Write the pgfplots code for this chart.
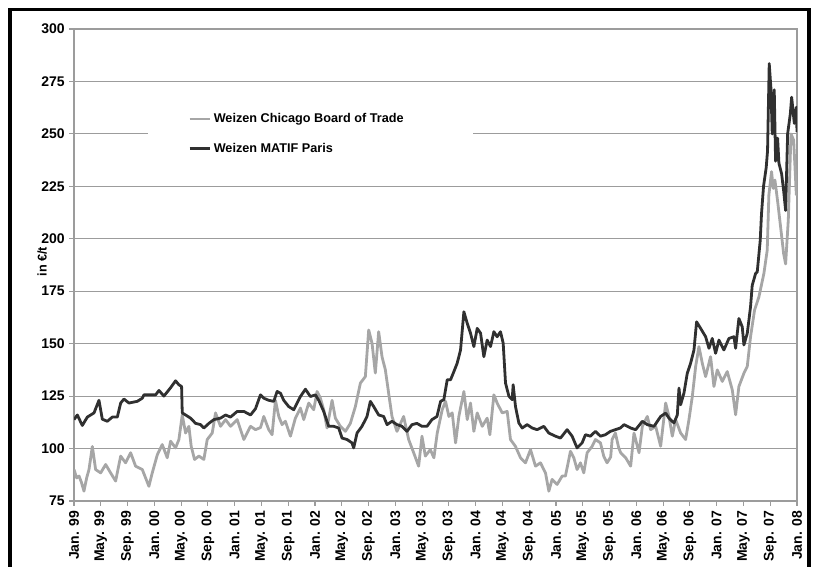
\documentclass[border=0pt]{standalone}
\usepackage{pgfplots}
\pgfplotsset{compat=1.18}
\usepackage{fontspec}
\setmainfont{Liberation Sans}
\definecolor{cbot}{HTML}{A6A6A6}
\definecolor{matif}{HTML}{303030}
\definecolor{gridc}{HTML}{9C9C9C}
\begin{document}
\begin{tikzpicture}
\useasboundingbox (0pt,0pt) rectangle (610.5pt,425.25pt);
\begin{axis}[
  at={(55.5pt,49.5pt)}, anchor=south west,
  scale only axis, width=542.25pt, height=354pt,
  xmin=0, xmax=108, ymin=75, ymax=300,
  xtick={0,4,...,108},
  xticklabels={Jan. 99,May. 99,Sep. 99,Jan. 00,May. 00,Sep. 00,Jan. 01,May. 01,Sep. 01,Jan. 02,May. 02,Sep. 02,Jan. 03,May. 03,Sep. 03,Jan. 04,May. 04,Sep. 04,Jan. 05,May. 05,Sep. 05,Jan. 06,May. 06,Sep. 06,Jan. 07,May. 07,Sep. 07,Jan. 08},
  ytick={75,100,...,300},
  xtick pos=left, ytick pos=left,
  tick align=outside, major tick length=3.5pt,
  tick style={gridc, line width=0.9pt},
  axis line style={gridc, line width=1.1pt},
  ymajorgrids, grid style={gridc, line width=0.75pt},
  /pgf/number format/assume math mode=true,
  y tick label style={font=\bfseries\fontsize{10.5}{12}\selectfont},
  x tick label style={rotate=90, anchor=east, xshift=-0.5pt, font=\bfseries\fontsize{10.5}{12}\selectfont},
  ylabel={in €/t},
  ylabel style={at={(axis description cs:-0.044,0.507)}, anchor=center, font=\bfseries\fontsize{9.5}{11}\selectfont},
  legend style={at={(axis description cs:0.1024,0.7778)}, anchor=west, draw=none, fill=white,
    font=\bfseries\fontsize{9.5}{11}\selectfont, inner xsep=30pt, inner ysep=8pt, row sep=10pt},
  legend cell align=left,
  legend image code/.code={\draw[#1] (0pt,0pt) -- (15pt,0pt);},
]
\addplot[cbot, line width=2.1pt, line join=round] coordinates {
(0,90)(0.4,86)(0.75,86.9)(1.1,84)(1.49,79.7)(1.89,86)(2.24,90)(2.74,101)(3.23,90)(3.98,88.4)
(4.73,92.4)(5.47,88.4)(6.22,84.5)(6.97,96.4)(7.71,93.2)(8.46,98)(9.2,91.6)(10.2,90)(11.19,82)(11.69,88.4)
(12.44,97)(13.18,101.9)(13.93,95.6)(14.43,103.5)(15.17,100.3)(15.67,104.3)(16.17,116)(16.67,107.4)(17.16,110.6)(17.51,101)
(18.01,94.8)(18.66,96.4)(19.4,94.8)(19.9,104.3)(20.65,107.4)(21.14,117)(21.89,110.6)(22.64,113.8)(23.38,110.6)(24.38,113.8)
(25.37,104.3)(26.37,110.6)(27.11,109)(27.86,110)(28.35,115.3)(29.09,109)(29.59,106.6)(30.09,123)(30.59,115.3)(31.08,111.4)
(31.58,113)(32.33,105.9)(33.07,114.5)(33.82,119.3)(34.32,113.8)(35.06,121.7)(35.81,118.5)(36.31,127.2)(36.81,124)(37.3,118.5)
(37.8,109.8)(38.55,123)(39.04,114.5)(39.79,110.6)(40.54,108.2)(41.28,112)(42.03,120)(42.78,131.2)(43.52,134.3)(44.02,156.5)
(44.52,150.2)(45.01,136)(45.51,155.7)(46.01,143.8)(46.51,137.5)(47.0,126.4)(47.5,115.3)(48.25,108.2)(49.24,115.3)(49.99,104.3)
(50.74,98)(51.48,91.6)(51.98,105.9)(52.48,96.4)(53.22,99.5)(53.76,95.6)(54.26,107.4)(55.0,118.5)(55.5,122.5)(56.0,115.3)
(56.5,117)(57.0,102.7)(57.49,115.3)(58.24,127.2)(58.74,113.8)(59.23,121.7)(59.73,108.2)(60.23,117)(60.98,110.6)(61.72,114.5)
(62.12,106.6)(62.72,125.6)(63.21,121.7)(63.96,117)(64.71,117.7)(65.2,104.3)(65.95,101)(66.7,95.6)(67.44,93.2)(68.19,99.5)
(68.94,91.6)(69.68,93.2)(70.43,88.4)(70.93,79.7)(71.42,85.3)(72.17,82.9)(72.92,86.9)(73.41,86.9)(74.16,98.7)(74.66,95.6)
(75.15,90)(75.65,93.2)(76.15,88.4)(76.65,98)(77.39,101)(77.89,104.3)(78.64,102.7)(79.13,96.4)(79.63,93.2)(80.17,96)
(80.38,104.3)(80.87,107.4)(81.37,100.3)(81.66,98)(82.41,95.6)(83.15,91.6)(83.65,107.4)(84.4,98)(84.9,110.6)(85.64,115.3)
(86.14,109)(86.89,110.6)(87.63,101.1)(88.38,121.7)(88.88,115.3)(89.37,105.9)(89.87,113.8)(90.62,107.4)(91.36,104.3)(91.86,113.8)
(92.36,124.8)(92.86,139.1)(93.35,148.6)(93.85,140.7)(94.35,134.3)(95.09,143.8)(95.59,129.6)(96.09,137.5)(96.84,132)(97.58,136.7)
(98.33,128)(98.83,116.1)(99.32,129.6)(100.07,135.9)(100.57,139.1)(101.06,153.3)(101.66,166)(102.31,172.3)(103.05,183.4)(103.55,194.5)
(103.8,221)(104.2,232)(104.45,224)(104.7,228)(105.1,218)(105.5,207)(106.0,193)(106.3,188)(106.7,209)(107.1,250)
(107.5,247)(107.9,221)(108.0,226)
};
\addlegendentry{Weizen Chicago Board of Trade\hspace*{20pt}}
\addplot[matif, line width=2.1pt, line join=round] coordinates {
(0,113.8)(0.5,116)(1.24,111)(1.99,115)(2.99,117)(3.73,123)(4.23,114)(4.98,113)(5.72,115)(6.47,115)
(6.97,121.7)(7.46,123.6)(8.21,121.7)(9.45,122.5)(10.2,124)(10.45,125.6)(11.44,125.6)(12.19,125.6)(12.69,127.7)(13.43,125)
(14.43,129)(15.17,132.3)(15.67,130.4)(16.07,129.6)(16.17,117)(16.67,116)(17.41,114.5)(18.16,112)(18.91,111.4)(19.4,109.8)
(20.15,112)(20.9,113.8)(21.89,114.5)(22.64,116)(23.38,115)(24.38,117.7)(25.37,117.7)(26.37,116)(27.11,119)(27.85,125.6)
(28.35,124)(29.09,123)(29.84,122.5)(30.34,127.2)(30.84,126.4)(31.33,123)(32.08,120)(32.83,118.5)(33.82,124.8)(34.57,128.3)
(35.31,124.8)(36.06,125.6)(36.56,123)(37.3,117.7)(38.05,110.6)(38.8,110.6)(39.54,109.8)(40.04,105)(40.79,104.3)(41.53,102.7)
(41.78,100.3)(42.28,107.4)(43.02,110.6)(43.77,115.3)(44.27,122.5)(44.77,120)(45.51,116)(46.26,115.3)(46.76,111.4)(47.5,113)
(48.25,111.4)(49.0,110.6)(49.74,108.2)(50.49,111.4)(51.23,112)(51.98,110.6)(52.73,110.6)(53.47,113.8)(54.22,115.3)(54.76,122.5)
(55.25,123.3)(55.75,132.8)(56.25,132.8)(56.75,136.7)(57.24,140.7)(57.74,147)(58.24,165.2)(58.74,159.7)(59.23,155)(59.73,148.6)
(60.23,157.3)(60.73,155)(61.22,143.8)(61.72,151.7)(62.22,148.6)(62.72,155.7)(63.21,153.3)(63.71,155.7)(64.11,150.2)(64.46,131.2)
(64.96,125)(65.45,123.3)(65.6,130.4)(65.95,120)(66.45,112.2)(66.95,109.8)(67.69,111.4)(68.44,109.8)(69.18,109)(70.18,110.6)
(70.92,107.4)(71.92,105.9)(72.67,105)(73.66,109)(74.41,105.9)(75.15,100.3)(75.9,102.7)(76.4,106.6)(77.14,105.9)(77.89,108.2)
(78.64,105.9)(79.38,106.6)(80.13,108.2)(80.87,109)(81.62,109.8)(82.16,111.4)(83.15,109.8)(83.9,109)(84.9,113)(85.64,111.4)
(86.64,110.6)(87.63,115.3)(88.38,116.9)(88.88,114.5)(89.62,112.2)(90.12,116)(90.37,128.8)(90.62,120.9)(91.11,126.4)(91.61,135.9)
(92.11,140.7)(92.61,147)(93.0,160.4)(93.6,157.3)(94.35,153.3)(94.85,147.8)(95.34,152.5)(95.84,145.4)(96.34,151.7)(97.08,147)
(97.83,152.5)(98.58,153.3)(98.83,147.8)(99.32,162)(99.82,158)(100.07,149.4)(100.57,154.9)(101.06,167.6)(101.31,177.8)(101.81,183.4)
(102.06,184.2)(102.5,199)(102.7,212)(103.0,225)(103.4,234)(103.6,242)(103.85,283.5)(104.1,272)(104.3,250)(104.6,271)
(104.8,237)(105.1,248)(105.3,236)(105.7,231)(106.0,223)(106.3,213.5)(106.6,250)(107.0,259.5)(107.2,267.5)(107.6,255)
(107.9,262.7)(108.0,251)
};
\addlegendentry{Weizen MATIF Paris}
\end{axis}
\draw[black, line width=2.6pt] (7.5pt,0pt) -- (7.5pt,418.1pt) -- (606.75pt,418.1pt) -- (606.75pt,0pt);
\end{tikzpicture}
\end{document}
